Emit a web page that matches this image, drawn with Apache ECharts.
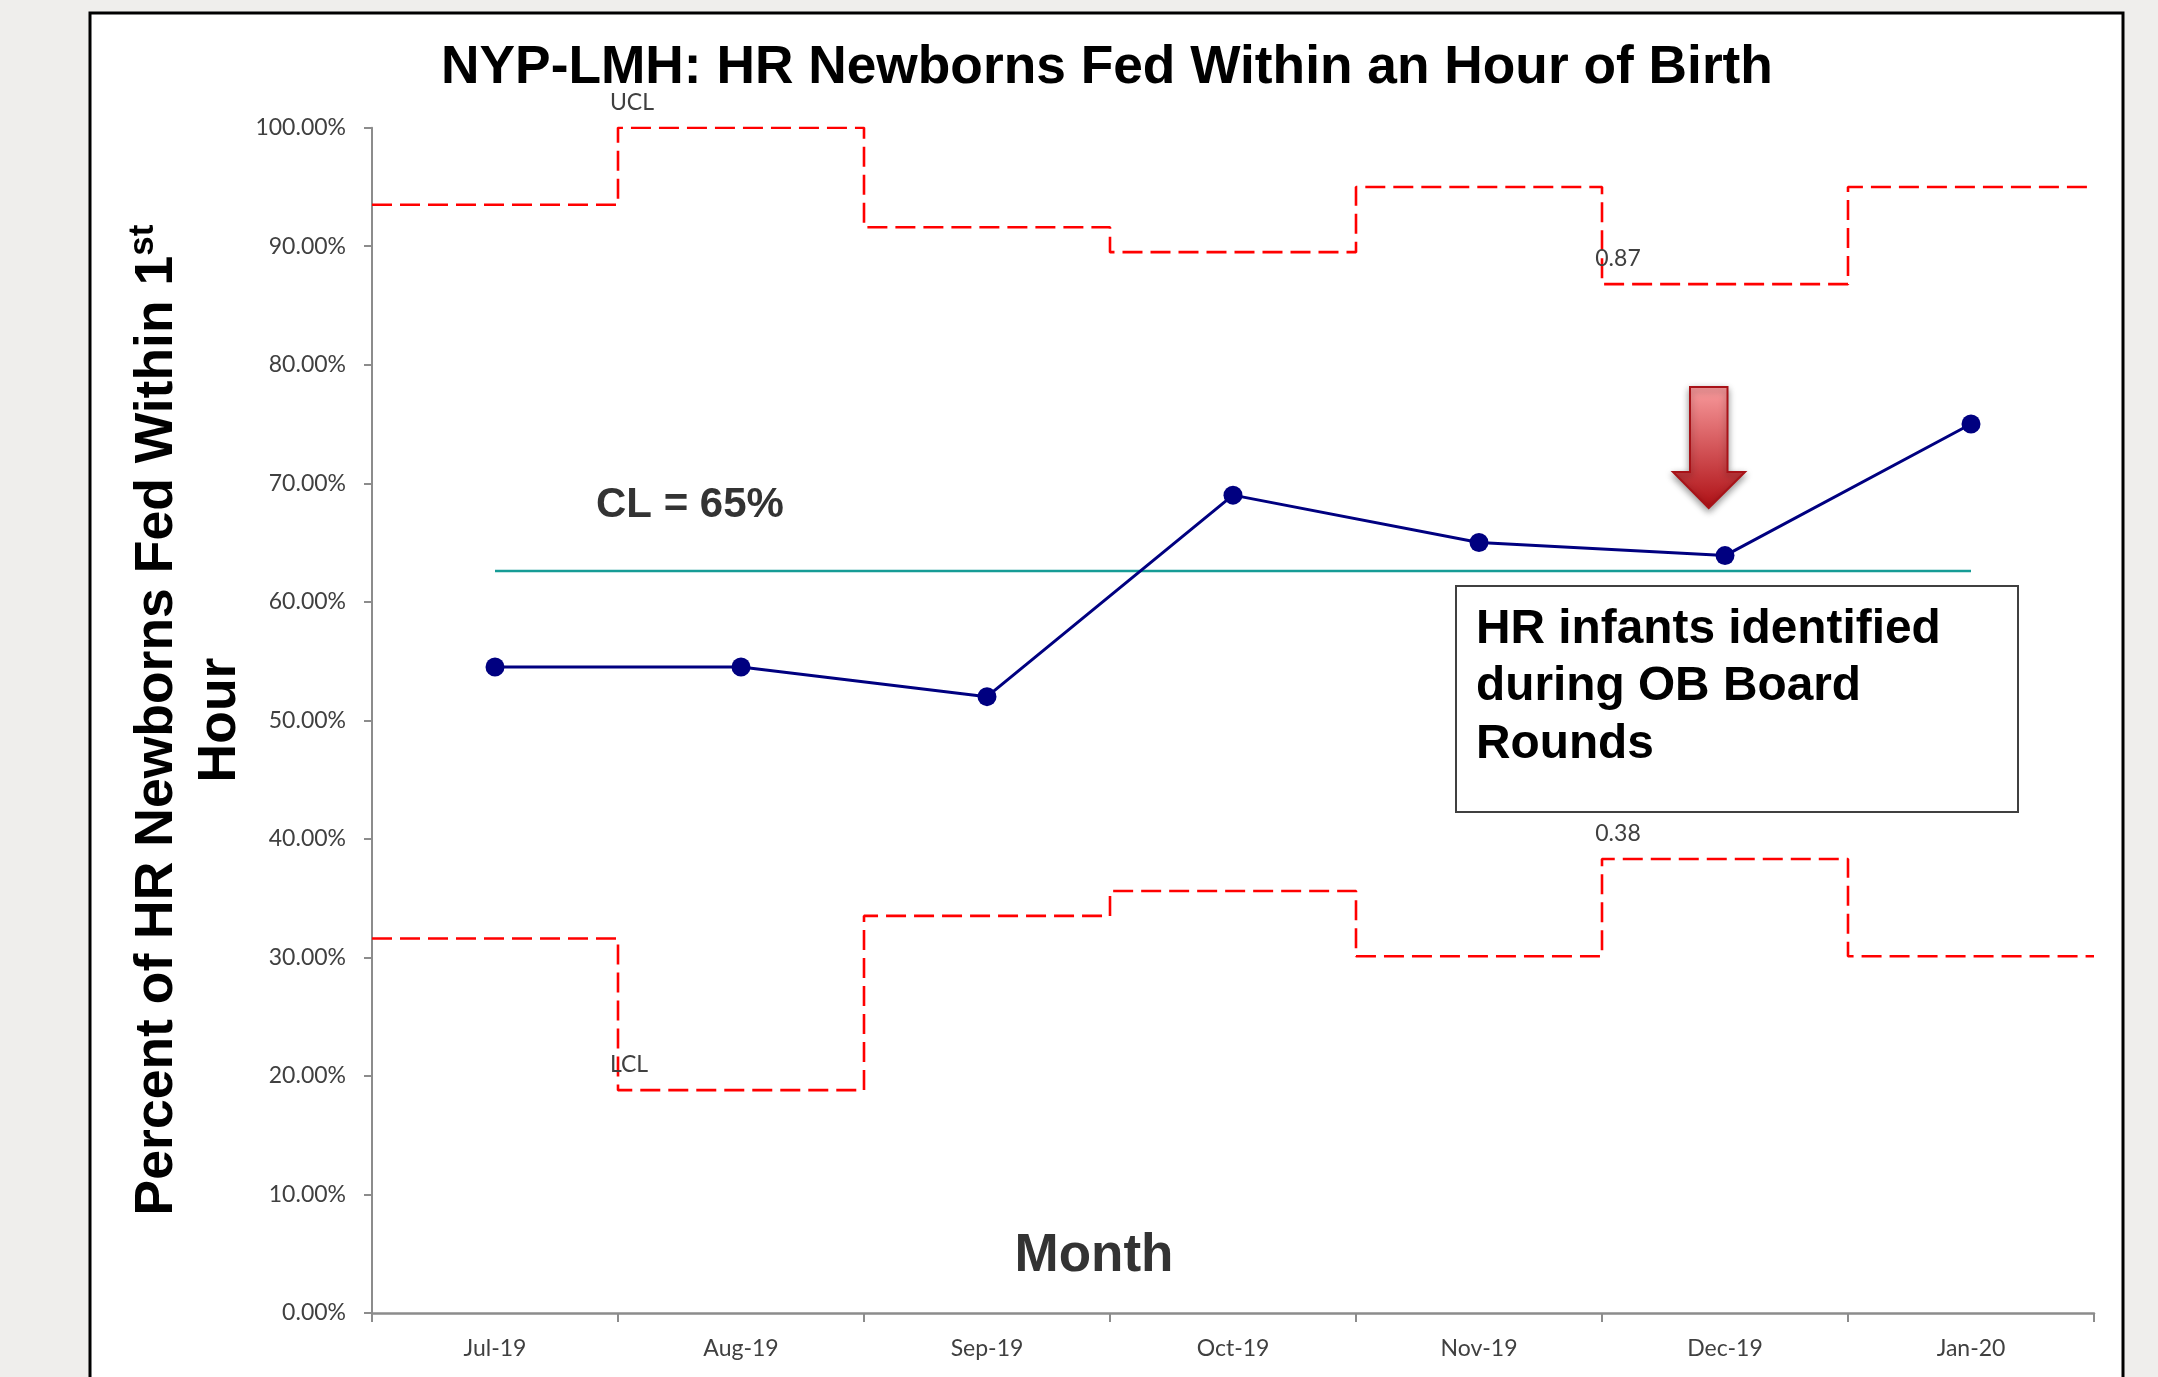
<!DOCTYPE html>
<html>
<head>
<meta charset="utf-8">
<style>html,body{margin:0;padding:0;background:#EFEEEC}#c{width:2158px;height:1377px}</style>
<script src="https://cdn.jsdelivr.net/npm/echarts@6/dist/echarts.min.js"></script>
</head>
<body>
<div id="c"></div>
<script>
const months = ['Jul-19','Aug-19','Sep-19','Oct-19','Nov-19','Dec-19','Jan-20'];
const fedPct = [54.5,54.5,52,69,65,63.9,75];
const centerLine = [62.6,62.6,62.6,62.6,62.6,62.6,62.6];
const ucl = [93.5,100,91.6,89.5,95,86.8,95];
const lcl = [31.6,18.8,33.5,35.6,30.1,38.3,30.1];
const uclLabels = {1:'UCL',5:'0.87'};
const lclLabels = {1:'LCL',5:'0.38'};

function stepData(vals, labels){
  const pts = vals.map((v,i)=>{
    const item = {value:[i,v]};
    if(labels[i]) item.label = {show:true,formatter:labels[i],position:'top',distance:14,offset:[labels[i]==='LCL'?11:(labels[i]==='UCL'?14:16),0],
      color:'#404040',fontFamily:'Lato',fontSize:23};
    return item;
  });
  pts.push({value:[vals.length,vals[vals.length-1]]});
  return pts;
}
const stepStyle = {color:'#FF0000',width:2.6,type:[20,8]};
const chart = echarts.init(document.getElementById('c'));
chart.setOption({
  animation:false,
  backgroundColor:'#EFEEEC',
  title:{text:'NYP-LMH: HR Newborns Fed Within an Hour of Birth',left:1102,top:37,textAlign:'center',
    textStyle:{fontFamily:'Liberation Sans',fontWeight:'bold',fontSize:53.3,color:'#000'}},
  grid:{left:372,top:127.7,width:1722,height:1185.3,containLabel:false},
  xAxis:[
    {type:'category',data:months,boundaryGap:true,
     axisLine:{lineStyle:{color:'#8C8C8C',width:2.5}},
     axisTick:{show:true,length:9,alignWithLabel:false,lineStyle:{color:'#8C8C8C',width:2}},
     axisLabel:{color:'#404040',fontFamily:'Lato',fontSize:23,margin:24},
     name:'Month',nameLocation:'middle',nameGap:-83,nameMoveOverlap:false,
     nameTextStyle:{fontFamily:'Liberation Sans',fontWeight:'bold',fontSize:53,color:'#333333',padding:[0,278,0,0]}},
    {type:'value',min:0,max:7,show:false}
  ],
  yAxis:{type:'value',min:0,max:100,interval:10,
    axisLine:{show:true,lineStyle:{color:'#8C8C8C',width:2}},
    axisTick:{show:true,length:8,lineStyle:{color:'#8C8C8C',width:2}},
    splitLine:{show:false},
    axisLabel:{color:'#404040',fontFamily:'Lato',fontSize:23,margin:26,formatter:v=>v.toFixed(2)+'%'}},
  series:[
    {name:'UCL',type:'line',xAxisIndex:1,step:'end',symbol:'circle',symbolSize:0,showAllSymbol:true,data:stepData(ucl,uclLabels),lineStyle:stepStyle,itemStyle:{color:'#FF0000'},z:3},
    {name:'LCL',type:'line',xAxisIndex:1,step:'end',symbol:'circle',symbolSize:0,showAllSymbol:true,data:stepData(lcl,lclLabels),lineStyle:stepStyle,itemStyle:{color:'#FF0000'},z:3},
    {name:'CL',type:'line',data:centerLine,symbol:'none',lineStyle:{color:'#169C96',width:2.5},z:3},
    {name:'Percent fed',type:'line',data:fedPct,symbol:'circle',symbolSize:19,
     lineStyle:{color:'#000080',width:3},itemStyle:{color:'#000080'},z:4}
  ],
  graphic:[
    {type:'rect',z:-1,silent:true,shape:{x:90,y:13,width:2033,height:1500},style:{fill:'#fff',stroke:'#000',lineWidth:3}},
    {type:'text',z:5,x:189,y:720,rotation:Math.PI/2,style:{
      text:'{a|Percent of HR Newborns Fed Within 1}{s|st}\n{a|Hour}',
      align:'center',verticalAlign:'middle',
      rich:{a:{fontFamily:'Liberation Sans',fontWeight:'bold',fontSize:53.5,lineHeight:63,fill:'#000'},
            s:{fontFamily:'Liberation Sans',fontWeight:'bold',fontSize:35,lineHeight:63,verticalAlign:'top',fill:'#000'}}}},
    {type:'text',z:5,x:596,y:505,style:{text:'CL = 65%',align:'left',verticalAlign:'middle',
      fontFamily:'Liberation Sans',fontWeight:'bold',fontSize:42,fill:'#333333'}},
    {type:'polygon',z:5,shape:{points:[[1690,387],[1727.5,387],[1727.5,472],[1745,472],[1708.7,508],[1673,472],[1690,472]]},
      style:{fill:new echarts.graphic.LinearGradient(0,0,0,1,[{offset:0,color:'#F99C9E'},{offset:1,color:'#AE0F14'}]),
        stroke:'#A81218',lineWidth:2,shadowBlur:7,shadowColor:'rgba(0,0,0,0.4)',shadowOffsetY:3}},
    {type:'rect',z:5,shape:{x:1456,y:586,width:562,height:226},style:{fill:'#fff',stroke:'#404040',lineWidth:2}},
    {type:'text',z:6,x:1476,y:601,style:{text:'HR infants identified\nduring OB Board\nRounds',align:'left',verticalAlign:'top',
      fontFamily:'Liberation Sans',fontWeight:'bold',fontSize:47.8,lineHeight:57.5,fill:'#000'}}
  ]
});
</script>
</body>
</html>
